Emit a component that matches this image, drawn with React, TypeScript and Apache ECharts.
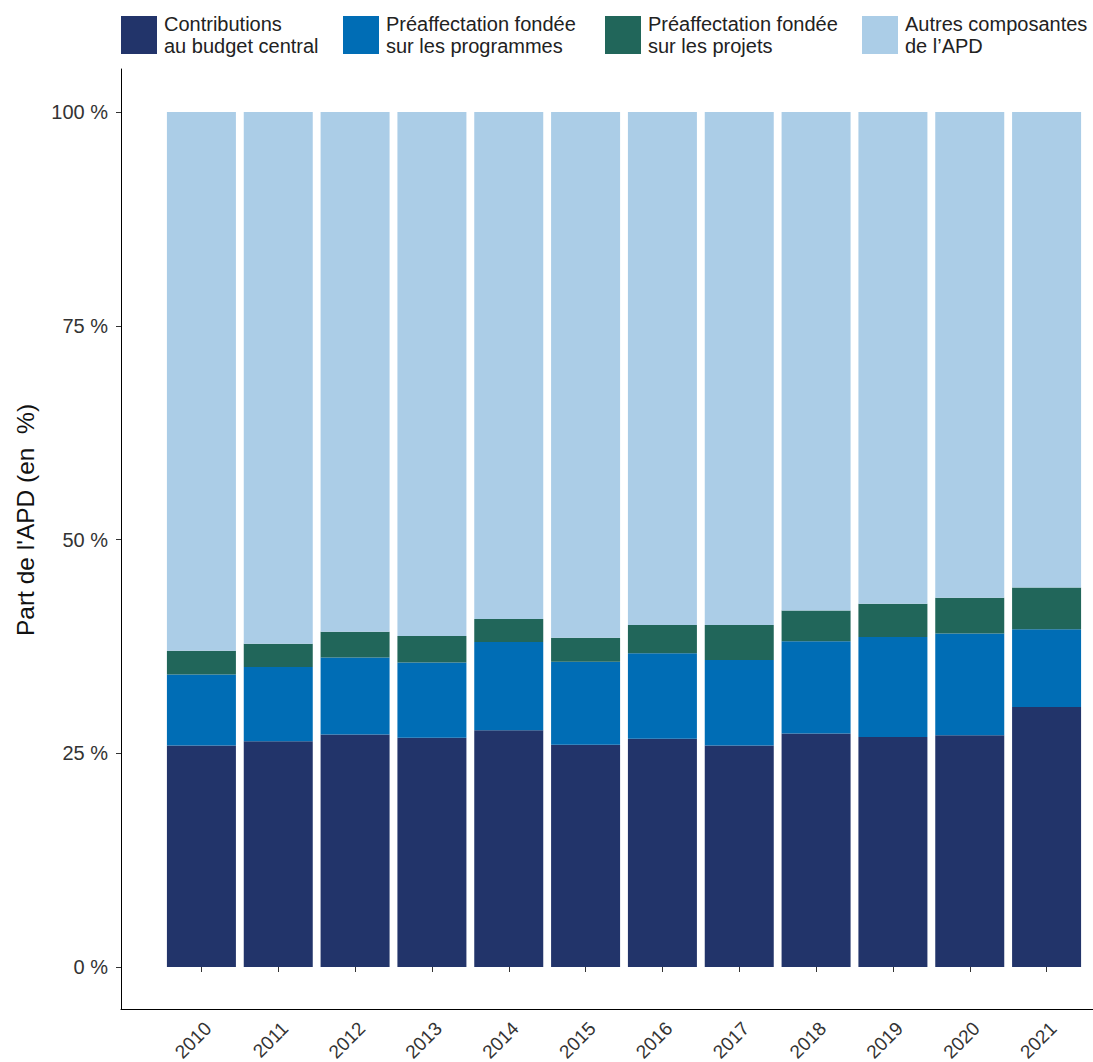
import React, { useEffect, useRef } from "react";
import * as echarts from "echarts";

const years = ["2010", "2011", "2012", "2013", "2014", "2015", "2016", "2017", "2018", "2019", "2020", "2021"];
const budgetCentral = [25.9, 26.4, 27.2, 26.8, 27.7, 26.0, 26.7, 25.9, 27.3, 26.9, 27.1, 30.4];
const programmes = [8.3, 8.7, 9.0, 8.8, 10.3, 9.7, 10.0, 10.0, 10.8, 11.7, 11.9, 9.1];
const projets = [2.8, 2.7, 3.0, 3.1, 2.7, 2.8, 3.3, 4.1, 3.6, 3.9, 4.2, 4.9];
const autres = [63.0, 62.2, 60.8, 61.3, 59.3, 61.5, 60.0, 60.0, 58.3, 57.5, 56.8, 55.6];

const seriesNames = [
  "Contributions\nau budget central",
  "Préaffectation fondée\nsur les programmes",
  "Préaffectation fondée\nsur les projets",
  "Autres composantes\nde l’APD",
];
const colors = ["#22346A", "#006DB5", "#21665A", "#ABCDE7"];
const FONT = "'Liberation Sans', Arial, Helvetica, sans-serif";

export default function App() {
  const ref = useRef<HTMLDivElement>(null);
  useEffect(() => {
    if (!ref.current) return;
    const chart = echarts.init(ref.current, null, { renderer: "svg" });
    const data = [budgetCentral, programmes, projets, autres];
    const legendLefts = [121, 343, 605, 862];
    chart.setOption({
      animation: false,
      textStyle: { fontFamily: FONT },
      legend: seriesNames.map((n, i) => ({
        data: [n],
        left: legendLefts[i],
        top: 13,
        padding: 0,
        itemWidth: 36,
        itemHeight: 38,
        itemGap: 0,
        icon: "rect",
        textStyle: { fontFamily: FONT, fontSize: 20, color: "#222", lineHeight: 22, padding: [0, 0, 0, 2] },
      })),
      grid: [
        { left: 163, right: 8, top: 112, bottom: 95, outerBoundsMode: "none", containLabel: false },
        { left: 121, right: 0, top: 69, bottom: 52.5, outerBoundsMode: "none", containLabel: false },
      ],
      xAxis: [
        {
          type: "category",
          gridIndex: 0,
          data: years,
          offset: 42.5,
          axisLine: { show: false },
          axisTick: { show: true, alignWithLabel: true, length: 5, lineStyle: { color: "#333" } },
          axisLabel: { rotate: 45, fontSize: 19, color: "#333", margin: 9, verticalAlign: "top", fontFamily: FONT },
        },
        {
          type: "value",
          gridIndex: 1,
          min: 0,
          max: 1,
          axisLine: { show: true, onZero: false, lineStyle: { color: "#000", width: 1 } },
          axisTick: { show: false },
          axisLabel: { show: false },
          splitLine: { show: false },
        },
      ],
      yAxis: [
        {
          type: "value",
          gridIndex: 0,
          min: 0,
          max: 100,
          interval: 25,
          offset: 42,
          axisLine: { show: false },
          axisTick: { show: true, length: 5, lineStyle: { color: "#333" } },
          axisLabel: { formatter: "{value} %", fontSize: 20, color: "#333", margin: 13, fontFamily: FONT },
          splitLine: { show: false },
        },
        {
          type: "value",
          gridIndex: 1,
          min: 0,
          max: 1,
          axisLine: { show: true, onZero: false, lineStyle: { color: "#000", width: 1 } },
          axisTick: { show: false },
          axisLabel: { show: false },
          splitLine: { show: false },
        },
      ],
      graphic: [
        {
          type: "text",
          x: 25,
          y: 520,
          rotation: Math.PI / 2,
          style: {
            text: "Part de l'APD (en  %)",
            fontSize: 24.5,
            fontFamily: FONT,
            fill: "#111",
            align: "center",
            verticalAlign: "middle",
          },
        },
      ],
      series: seriesNames.map((n, i) => ({
        name: n,
        type: "bar",
        stack: "total",
        xAxisIndex: 0,
        yAxisIndex: 0,
        barWidth: 69,
        itemStyle: { color: colors[i] },
        data: data[i],
      })),
    });
    return () => chart.dispose();
  }, []);
  return <div ref={ref} style={{ position: "absolute", left: 0, top: 0, width: 1093, height: 1062 }} />;
}
